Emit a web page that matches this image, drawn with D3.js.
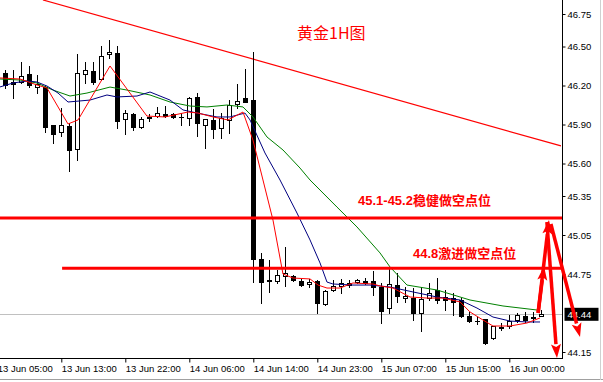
<!DOCTYPE html>
<html><head><meta charset="utf-8">
<script src="https://cdn.jsdelivr.net/npm/d3@7/dist/d3.min.js"></script>
<style>
html,body{margin:0;padding:0;background:#fff;}
svg{display:block;}
</style></head>
<body>
<svg id="chart" width="603" height="382"></svg>
<script>
// ---------- DATA ----------
// candles: [open, high, low, close], hourly bars (index 0..68)
const candles = [
 [46.27,46.32,46.20,46.24],[46.30,46.32,46.18,46.20],[46.23,46.32,46.10,46.21],[46.23,46.38,46.22,46.27],
 [46.29,46.35,46.19,46.20],[46.19,46.28,46.14,46.21],[46.19,46.20,45.84,45.88],[45.90,45.90,45.76,45.83],
 [45.84,46.03,45.81,45.90],[45.89,45.91,45.54,45.70],[45.71,46.44,45.63,46.30],[46.29,46.38,46.22,46.32],
 [46.31,46.38,46.21,46.23],[46.25,46.50,46.24,46.43],[46.44,46.55,46.41,46.46],[46.45,46.50,45.87,45.93],
 [45.94,46.01,45.83,45.99],[45.98,45.99,45.86,45.88],[45.88,45.96,45.87,45.94],[45.96,45.98,45.93,45.95],
 [45.965,46.035,45.96,45.99],[45.98,46.04,45.96,45.965],[45.98,45.99,45.95,45.96],[45.96,45.99,45.90,45.955],
 [45.95,46.11,45.90,46.10],[46.11,46.14,45.81,45.91],[45.90,45.94,45.72,45.94],[45.935,46.02,45.80,45.865],
 [45.87,45.99,45.80,45.95],[45.935,46.09,45.835,46.05],[46.06,46.21,46.03,46.08],[46.10,46.33,46.07,46.075],
 [46.09,46.46,44.69,44.865],[44.865,44.91,44.53,44.69],[44.705,44.86,44.61,44.695],[44.695,44.78,44.68,44.74],
 [44.735,44.96,44.66,44.76],[44.735,44.745,44.695,44.705],[44.695,44.71,44.655,44.665],[44.675,44.71,44.65,44.69],
 [44.695,44.705,44.45,44.525],[44.52,44.625,44.515,44.62],[44.625,44.705,44.62,44.66],[44.66,44.71,44.605,44.68],
 [44.68,44.70,44.65,44.665],[44.69,44.71,44.68,44.705],[44.695,44.72,44.67,44.68],[44.695,44.775,44.59,44.65],
 [44.65,44.68,44.375,44.465],[44.49,44.795,44.45,44.675],[44.665,44.76,44.535,44.58],[44.565,44.65,44.535,44.58],
 [44.565,44.64,44.395,44.45],[44.45,44.65,44.31,44.56],[44.565,44.68,44.55,44.605],[44.625,44.72,44.525,44.55],
 [44.575,44.625,44.475,44.55],[44.565,44.605,44.435,44.535],[44.55,44.565,44.42,44.43],[44.43,44.46,44.38,44.39],
 [44.392,44.42,44.365,44.385],[44.405,44.405,44.21,44.22],[44.255,44.35,44.25,44.35],[44.34,44.375,44.32,44.346],
 [44.35,44.435,44.335,44.39],[44.395,44.45,44.38,44.435],[44.43,44.46,44.38,44.395],[44.42,44.46,44.38,44.415],
 [44.43,44.47,44.425,44.445]
];
// moving averages: [bar index, price]
const maRed = [[0.34,46.258],[2.84,46.25],[4.96,46.204],[6.21,46.181],[8.84,45.904],[10.09,45.935],[14.09,46.35],
 [18.7,45.965],[20.96,45.958],[23.84,45.996],[25.09,45.988],[26.96,45.958],[28.84,45.935],[30.71,45.996],
 [31.96,45.78],[33.21,45.473],[34.46,45.165],[35.71,44.75],[36.96,44.719],[39.09,44.712],[40.09,44.665],[41.21,44.642],
 [42.84,44.642],[44.46,44.681],[46.96,44.673],[47.84,44.658],[49.46,44.642],[51.59,44.573],[53.71,44.565],
 [55.71,44.565],[57.84,44.535],[59.09,44.458],[60.71,44.396],[61.96,44.35],[64.09,44.35],[66.21,44.373],[67.84,44.412]];
const maNavy = [[0.34,46.189],[1.96,46.219],[3.71,46.235],[4.96,46.227],[6.21,46.196],[7.59,46.142],[8.84,46.073],
 [11.59,46.088],[13.71,46.127],[14.96,46.112],[17.46,46.119],[19.09,46.15],[21.59,46.088],[23.21,46.012],
 [24.96,45.988],[27.46,45.958],[29.09,45.958],[30.96,45.988],[31.59,45.935],[33.46,45.681],[35.34,45.473],
 [37.46,45.219],[39.09,45.012],[40.34,44.835],[41.21,44.688],[41.96,44.673],[44.46,44.665],[46.59,44.665],
 [49.09,44.65],[51.96,44.612],[54.96,44.573],[57.84,44.55],[59.96,44.488],[61.96,44.419],[64.09,44.388],
 [66.21,44.381],[67.84,44.381]];
const maGreen = [[0.34,46.25],[2.84,46.242],[4.96,46.219],[6.96,46.165],[9.09,46.119],[11.21,46.142],[14.09,46.188],
 [16.21,46.165],[19.09,46.127],[21.59,46.073],[24.09,46.042],[26.21,46.035],[28.71,46.05],[30.71,46.035],
 [31.96,45.958],[33.71,45.804],[35.71,45.704],[37.84,45.565],[39.09,45.473],[42.46,45.265],[44.96,45.112],
 [47.84,44.912],[49.09,44.804],[51.21,44.665],[54.96,44.627],[59.09,44.55],[63.21,44.504],[67.46,44.473]];
const trendLine = [[5.71,46.858],[70.46,45.735]];
const levels = [45.18, 44.795];
const levelStarts = [-0.7, 8.1];
const levelLabels = ["45.1-45.2稳健做空点位", "44.8激进做空点位"];
const currentPrice = 44.44;
const priceTicks = [46.75,46.50,46.20,45.90,45.60,45.35,45.05,44.75,44.15];
const timeTickIdx = [0,8,16,24,32,40,48,56,64];
const timeTickLabels = ["13 Jun 05:00","13 Jun 13:00","13 Jun 22:00","14 Jun 06:00","14 Jun 14:00",
 "14 Jun 23:00","15 Jun 07:00","15 Jun 15:00","16 Jun 00:00"];
// arrows: [[fromIdx, fromPrice],[toIdx, toPrice]]
const arrows = [
 [[67.6,44.45],[68.96,45.165]],
 [[67.6,44.45],[68.34,44.81]],
 [[68.7,45.15],[69.96,44.104]],
 [[69.2,45.135],[72.84,44.265]]
];
const title = "黄金1H图";

// ---------- LAYOUT ----------
const W = 603, H = 382;
const axisX = 562.5, axisY = 358.5;
const x = d3.scaleLinear().domain([0,68]).range([-2.7, 541.3]);
const y = d3.scaleLinear().domain([44.15,46.75]).range([352,14]);
const svg = d3.select("#chart");
svg.append("rect").attr("width",W).attr("height",H).attr("fill","#fff");

svg.append("defs").append("clipPath").attr("id","plot")
  .append("rect").attr("x",0).attr("y",0).attr("width",axisX).attr("height",axisY);

const plot = svg.append("g").attr("clip-path","url(#plot)");

// current price grey line
plot.append("line").attr("x1",0).attr("x2",axisX)
  .attr("y1",Math.round(y(currentPrice))+0.5).attr("y2",Math.round(y(currentPrice))+0.5)
  .attr("stroke","#c0c0c0").attr("stroke-width",1);

// trend line
plot.append("line")
  .attr("x1",x(trendLine[0][0])).attr("y1",y(trendLine[0][1]))
  .attr("x2",x(trendLine[1][0])).attr("y2",y(trendLine[1][1]))
  .attr("stroke","#ff0000").attr("stroke-width",1.2);

// candles
const cg = plot.append("g").attr("shape-rendering","crispEdges");
candles.forEach((c,i)=>{
  const [o,h,l,cl] = c;
  const cx = Math.round(x(i));
  cg.append("line").attr("x1",cx+0.5).attr("x2",cx+0.5)
    .attr("y1",Math.round(y(h))).attr("y2",Math.round(y(l))+1)
    .attr("stroke","#000").attr("stroke-width",1);
  const top = Math.round(y(Math.max(o,cl))), bot = Math.round(y(Math.min(o,cl)));
  const bull = cl >= o;
  if (bull) {
    cg.append("rect").attr("x",cx-2+0.5).attr("y",top+0.5).attr("width",4)
      .attr("height",Math.max(1,bot-top)).attr("fill","#fff").attr("stroke","#000");
  } else {
    cg.append("rect").attr("x",cx-2).attr("y",top).attr("width",5)
      .attr("height",Math.max(1,bot-top+1)).attr("fill","#000");
  }
});

// moving averages
const line = d3.line().x(d=>x(d[0])).y(d=>y(d[1]));
[[maGreen,"#008000"],[maNavy,"#000080"],[maRed,"#ff0000"]].forEach(([d,col])=>{
  plot.append("path").datum(d).attr("d",line).attr("fill","none")
    .attr("stroke",col).attr("stroke-width",1);
});

// horizontal levels
levels.forEach((v,k)=>{
  svg.append("line").attr("x1",Math.max(0,x(levelStarts[k]))).attr("x2",axisX)
    .attr("y1",y(v)).attr("y2",y(v)).attr("stroke","#ff0000").attr("stroke-width",3);
});

// level labels
const lblFont = "'Liberation Sans','Noto Sans CJK SC',sans-serif";
svg.append("text").attr("x",358).attr("y",205).text(levelLabels[0])
  .attr("font-family",lblFont).attr("font-weight","bold").attr("font-size",13).attr("fill","#ff0000");
svg.append("text").attr("x",413).attr("y",258).text(levelLabels[1])
  .attr("font-family",lblFont).attr("font-weight","bold").attr("font-size",13).attr("fill","#ff0000");

// title
svg.append("text").attr("x",297).attr("y",39).text(title)
  .attr("font-family","'Noto Sans CJK SC',sans-serif").attr("font-size",16).attr("fill","#ff0000");

// axes
const axFont = "'Liberation Sans',Arial,sans-serif";
svg.append("line").attr("x1",axisX).attr("x2",axisX).attr("y1",0).attr("y2",axisY)
  .attr("stroke","#000").attr("shape-rendering","crispEdges");
svg.append("line").attr("x1",0).attr("x2",axisX).attr("y1",axisY).attr("y2",axisY)
  .attr("stroke","#000").attr("shape-rendering","crispEdges");

const ra = svg.append("g").attr("transform",`translate(${axisX},0)`)
  .call(d3.axisRight(y).tickValues(priceTicks).tickFormat(d3.format(".2f")).tickSize(3).tickPadding(2));
ra.select(".domain").remove();
ra.selectAll("text").attr("font-family",axFont).attr("font-size",9.5).attr("fill","#000");
ra.selectAll("line").attr("stroke","#000");

const ba = svg.append("g").attr("transform",`translate(0,${axisY})`)
  .call(d3.axisBottom(x).tickValues(timeTickIdx).tickFormat((d,k)=>timeTickLabels[k]).tickSize(4).tickPadding(3));
ba.select(".domain").remove();
ba.selectAll(".tick line").attr("stroke","#000");
ba.selectAll("text").attr("text-anchor","start").attr("dx",0)
  .attr("font-family",axFont).attr("font-size",9.5).attr("fill","#000");

// current price tag
const cpY = y(currentPrice);
svg.append("rect").attr("x",axisX+2).attr("y",cpY-6.5).attr("width",34).attr("height",13).attr("fill","#000");
svg.append("text").attr("x",axisX+5).attr("y",cpY+3.5).text(currentPrice.toFixed(2))
  .attr("font-family",axFont).attr("font-size",9.5).attr("fill","#fff");

// arrows
const ag = svg.append("g");
arrows.forEach(([a,b])=>{
  const x1=x(a[0]), y1=y(a[1]), x2=x(b[0]), y2=y(b[1]);
  const ang = Math.atan2(y2-y1,x2-x1);
  const hl = 14, hw = 5;
  const bx = x2 - hl*Math.cos(ang), by = y2 - hl*Math.sin(ang);
  ag.append("line").attr("x1",x1).attr("y1",y1).attr("x2",bx).attr("y2",by)
    .attr("stroke","#ff0000").attr("stroke-width",3.5);
  const px = -Math.sin(ang), py = Math.cos(ang);
  ag.append("path").attr("d",`M${x2},${y2}L${bx+px*hw},${by+py*hw}L${bx+3*Math.cos(ang)},${by+3*Math.sin(ang)}L${bx-px*hw},${by-py*hw}Z`)
    .attr("fill","#ff0000");
});

// window frame lines
svg.append("line").attr("x1",0).attr("x2",W).attr("y1",379.5).attr("y2",379.5).attr("stroke","#a0a0a0");
svg.append("line").attr("x1",600.5).attr("x2",600.5).attr("y1",0).attr("y2",380).attr("stroke","#d0d0d0");
</script>
</body></html>
